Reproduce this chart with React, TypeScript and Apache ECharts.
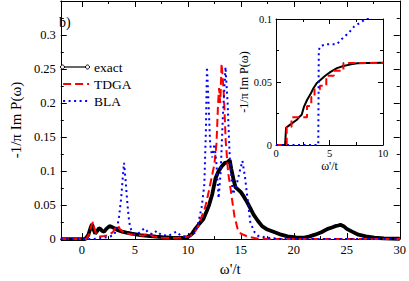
import React, { useEffect, useRef } from "react";
import * as echarts from "echarts";

// ---- main panel data ----
const exactX = [-2, 0.3, 0.6, 0.8, 0.95, 1.1, 1.25, 1.45, 1.6, 1.75, 1.9, 2.1, 2.3, 2.6, 2.8, 3.1, 3.4, 3.8, 4.2, 4.7, 5.5, 6.2, 7.0, 7.6, 8.4, 9.1, 9.6, 10.0, 10.4, 10.7, 11.0, 11.45, 11.8, 12.0, 12.3, 12.6, 12.9, 13.2, 13.5, 13.75, 13.95, 14.1, 14.3, 14.5, 14.8, 15.0, 15.3, 15.6, 15.9, 16.2, 16.6, 17.0, 17.5, 18.2, 18.8, 19.4, 20.2, 20.9, 21.5, 22.0, 22.6, 23.2, 23.6, 23.9, 24.2, 24.4, 24.7, 25.0, 25.5, 26.1, 26.8, 27.6, 28.5, 30];
const exactY = [0, 0, 0.006, 0.016, 0.022, 0.014, 0.008, 0.012, 0.016, 0.015, 0.012, 0.011, 0.015, 0.019, 0.018, 0.0157, 0.013, 0.011, 0.0095, 0.008, 0.006, 0.0046, 0.0035, 0.0028, 0.0022, 0.0019, 0.002, 0.003, 0.008, 0.015, 0.021, 0.029, 0.042, 0.05, 0.066, 0.089, 0.1, 0.107, 0.112, 0.113, 0.116, 0.103, 0.088, 0.076, 0.072, 0.069, 0.062, 0.054, 0.045, 0.036, 0.027, 0.019, 0.014, 0.01, 0.0065, 0.004, 0.0025, 0.002, 0.004, 0.0065, 0.01, 0.015, 0.017, 0.019, 0.02, 0.021, 0.019, 0.015, 0.011, 0.0065, 0.004, 0.002, 0.001, 0.0005];

const tdgaX = [-2, 0.4, 0.7, 0.9, 1.03, 1.2, 1.4, 1.7, 2.1, 2.5, 2.9, 3.2, 3.4, 3.6, 4.0, 4.6, 5.2, 5.8, 6.3, 6.7, 7.5, 8.5, 9.5, 10.2, 10.7, 11.0, 11.3, 11.6, 11.8, 12.04, 12.3, 12.5, 12.7, 12.85, 12.95, 13.05, 13.1, 13.18, 13.3, 13.4, 13.57, 13.8, 14.1, 14.4, 14.7, 15.0, 15.6, 16.5, 18, 30];
const tdgaY = [0, 0, 0.008, 0.02, 0.025, 0.014, 0.006, 0.004, 0.0045, 0.006, 0.01, 0.017, 0.02, 0.014, 0.009, 0.007, 0.006, 0.005, 0.009, 0.004, 0.002, 0.0015, 0.002, 0.004, 0.012, 0.02, 0.033, 0.045, 0.058, 0.075, 0.095, 0.11, 0.14, 0.2, 0.222, 0.2, 0.22, 0.258, 0.235, 0.21, 0.144, 0.098, 0.066, 0.033, 0.015, 0.008, 0.004, 0.001, 0, 0];

const blaX = [-2, 1.0, 1.45, 2.0, 2.5, 3.0, 3.3, 3.5, 3.7, 3.85, 3.97, 4.1, 4.25, 4.4, 4.55, 4.85, 5.3, 5.9, 6.3, 6.7, 7.05, 7.5, 8.2, 8.9, 9.4, 10.0, 10.4, 10.7, 11.0, 11.3, 11.55, 11.7, 11.8, 11.95, 12.1, 12.3, 12.5, 12.7, 12.9, 13.1, 13.3, 13.55, 13.75, 13.95, 14.25, 14.6, 14.9, 15.15, 15.4, 15.7, 15.9, 16.3, 16.6, 17.5, 19, 30];
const blaY = [0, 0, 0.001, 0.002, 0.003, 0.006, 0.015, 0.033, 0.06, 0.09, 0.112, 0.09, 0.06, 0.033, 0.017, 0.008, 0.008, 0.016, 0.009, 0.007, 0.012, 0.006, 0.005, 0.011, 0.004, 0.004, 0.006, 0.01, 0.025, 0.047, 0.08, 0.16, 0.253, 0.2, 0.14, 0.12, 0.14, 0.11, 0.06, 0.1, 0.18, 0.253, 0.2, 0.12, 0.066, 0.08, 0.1, 0.115, 0.09, 0.05, 0.024, 0.01, 0.005, 0.002, 0, 0];

// ---- inset data (integrated weight) ----
const insExactX = [0, 0.85, 0.94, 1.3, 1.95, 2.2, 2.4, 2.6, 2.9, 3.2, 3.5, 3.8, 4.15, 4.6, 5.1, 5.7, 6.3, 7.0, 7.6, 8.5, 10];
const insExactY = [0, 0, 0.0137, 0.016, 0.02, 0.0225, 0.024, 0.03, 0.0357, 0.04, 0.045, 0.049, 0.0516, 0.055, 0.058, 0.061, 0.0627, 0.064, 0.0648, 0.0651, 0.0653];

const insTdgaX = [0, 1.0, 1.45, 2.9, 3.3, 3.6, 4.1, 4.7, 5.4, 6.3, 10];
const insTdgaY = [0, 0.0145, 0.022, 0.031, 0.038, 0.044, 0.047, 0.055, 0.059, 0.065, 0.065];

const insBlaX = [0, 3.95, 4.0, 4.1, 4.6, 5.7, 6.0, 6.8, 7.3, 8.4, 10];
const insBlaY = [0, 0, 0.075, 0.078, 0.08, 0.08, 0.083, 0.089, 0.094, 0.1, 0.106];

const zip = (xs: number[], ys: number[]) => xs.map((x, i) => [x, ys[i]]);

const FONT = "'Liberation Serif', 'DejaVu Serif', serif";

export default function App() {
  const ref = useRef<HTMLDivElement>(null);
  useEffect(() => {
    if (!ref.current) return;
    const chart = echarts.init(ref.current, undefined, { renderer: "svg" });
    const tick = (len: number) => ({ show: true, inside: true, length: len, lineStyle: { color: "#000", width: 1 } });
    const minor = (len: number) => ({ show: true, splitNumber: 2, length: len, lineStyle: { color: "#000", width: 1 } });
    const line = { show: true, onZero: false, lineStyle: { color: "#000", width: 1 } };
    const mainX = { min: -2, max: 30, splitNumber: 6 };
    const mainY = { min: 0, max: 0.35, interval: 0.05 };
    const insX = { min: 0, max: 10, interval: 5 };
    const insY = { min: 0, max: 0.1, interval: 0.05 };
    const fmt = (v: number) => String(Math.round(v * 1000) / 1000);
    const hidden = { opacity: 0, borderWidth: 0 };
    chart.setOption({
      animation: false,
      backgroundColor: "#fff",
      textStyle: { fontFamily: FONT },
      grid: [
        { left: 41, right: 6, top: 1, bottom: 27 },
        { left: 276, top: 19, width: 107, height: 126, show: true, backgroundColor: "#fff", borderWidth: 0, z: 3 },
      ],
      xAxis: [
        {
          type: "value", gridIndex: 0, position: "bottom", ...mainX,
          axisLine: line, axisTick: tick(6), minorTick: minor(3), splitLine: { show: false },
          axisLabel: { fontSize: 12.5, color: "#000", margin: 4, fontFamily: FONT, showMinLabel: false, formatter: fmt },
          name: "ω'/t", nameLocation: "middle", nameGap: 13,
          nameTextStyle: { fontSize: 15, color: "#000", fontFamily: FONT },
        },
        {
          type: "value", gridIndex: 0, position: "top", ...mainX,
          axisLine: line, axisTick: tick(6), minorTick: minor(3), splitLine: { show: false },
          axisLabel: { show: false },
        },
        {
          type: "value", gridIndex: 1, position: "bottom", ...insX,
          axisLine: line, axisTick: tick(5), minorTick: minor(3), splitLine: { show: false },
          axisLabel: { fontSize: 10.5, color: "#000", margin: 3, fontFamily: FONT, formatter: fmt },
          name: "ω'/t", nameLocation: "middle", nameGap: 13,
          nameTextStyle: { fontSize: 12, color: "#000", fontFamily: FONT },
          z: 4,
        },
        {
          type: "value", gridIndex: 1, position: "top", ...insX,
          axisLine: line, axisTick: tick(5), minorTick: minor(3), splitLine: { show: false },
          axisLabel: { show: false }, z: 4,
        },
      ],
      yAxis: [
        {
          type: "value", gridIndex: 0, position: "left", ...mainY,
          axisLine: line, axisTick: tick(6), minorTick: minor(3), splitLine: { show: false },
          axisLabel: { fontSize: 12.5, color: "#000", margin: 5, fontFamily: FONT, showMaxLabel: false, formatter: fmt },
          name: "-1/π Im P(ω)", nameLocation: "middle", nameGap: 24, nameRotate: 90,
          nameTextStyle: { fontSize: 15, color: "#000", fontFamily: FONT },
        },
        {
          type: "value", gridIndex: 0, position: "right", ...mainY,
          axisLine: line, axisTick: tick(6), minorTick: minor(3), splitLine: { show: false },
          axisLabel: { show: false },
        },
        {
          type: "value", gridIndex: 1, position: "left", ...insY,
          axisLine: line, axisTick: tick(5), minorTick: minor(3), splitLine: { show: false },
          axisLabel: { fontSize: 10.5, color: "#000", margin: 4, fontFamily: FONT, formatter: fmt },
          name: "-1/π Im P(ω)", nameLocation: "middle", nameGap: 23, nameRotate: 90,
          nameTextStyle: { fontSize: 12, color: "#000", fontFamily: FONT },
          z: 4,
        },
        {
          type: "value", gridIndex: 1, position: "right", ...insY,
          axisLine: line, axisTick: tick(5), minorTick: minor(3), splitLine: { show: false },
          axisLabel: { show: false }, z: 4,
        },
      ],
      legend: {
        orient: "vertical",
        left: 62,
        top: 60,
        padding: 0,
        itemWidth: 26,
        itemHeight: 14,
        itemGap: 3,
        textStyle: { fontSize: 13.5, color: "#000", fontFamily: FONT },
        data: [
          { name: "exact", lineStyle: { width: 1.2 }, itemStyle: hidden },
          { name: "TDGA", lineStyle: { width: 2.2 }, itemStyle: hidden },
          { name: "BLA", lineStyle: { width: 2.2 }, itemStyle: hidden },
        ],
      },
      series: [
        {
          name: "exact", type: "line", xAxisIndex: 0, yAxisIndex: 0, symbol: "none",
          data: zip(exactX, exactY), lineStyle: { color: "#000", width: 3.8 }, itemStyle: { color: "#000" }, z: 2,
        },
        {
          name: "TDGA", type: "line", xAxisIndex: 0, yAxisIndex: 0, symbol: "none",
          data: zip(tdgaX, tdgaY), lineStyle: { color: "#ff0000", width: 2, type: [8, 4] }, itemStyle: { color: "#ff0000" }, z: 2,
        },
        {
          name: "BLA", type: "line", xAxisIndex: 0, yAxisIndex: 0, symbol: "none",
          data: zip(blaX, blaY), lineStyle: { color: "#0000ff", width: 2, type: [2, 3.5] }, itemStyle: { color: "#0000ff" }, z: 2,
        },
        {
          name: "exact", type: "line", xAxisIndex: 2, yAxisIndex: 2, symbol: "none",
          data: zip(insExactX, insExactY), lineStyle: { color: "#000", width: 2 }, z: 5,
        },
        {
          name: "TDGA", type: "line", xAxisIndex: 2, yAxisIndex: 2, symbol: "none", step: "end",
          data: zip(insTdgaX, insTdgaY), lineStyle: { color: "#ff0000", width: 2, type: [7, 4] }, z: 5,
        },
        {
          name: "BLA", type: "line", xAxisIndex: 2, yAxisIndex: 2, symbol: "none",
          data: zip(insBlaX, insBlaY), lineStyle: { color: "#0000ff", width: 2, type: [2, 3.5] }, z: 5,
        },
      ],
      graphic: [
        { type: "text", left: 59, top: 15, z: 100, style: { text: "b)", fontSize: 14, fontFamily: FONT, fill: "#000" } },
        { type: "circle", z: 100, shape: { cx: 62.5, cy: 67, r: 2 }, style: { fill: "#fff", stroke: "#000", lineWidth: 1 } },
        { type: "circle", z: 100, shape: { cx: 87.5, cy: 67, r: 2 }, style: { fill: "#fff", stroke: "#000", lineWidth: 1 } },
      ],
    });
    return () => chart.dispose();
  }, []);
  return <div ref={ref} style={{ width: 409, height: 281, position: "fixed", left: 0, top: 0 }} />;
}
